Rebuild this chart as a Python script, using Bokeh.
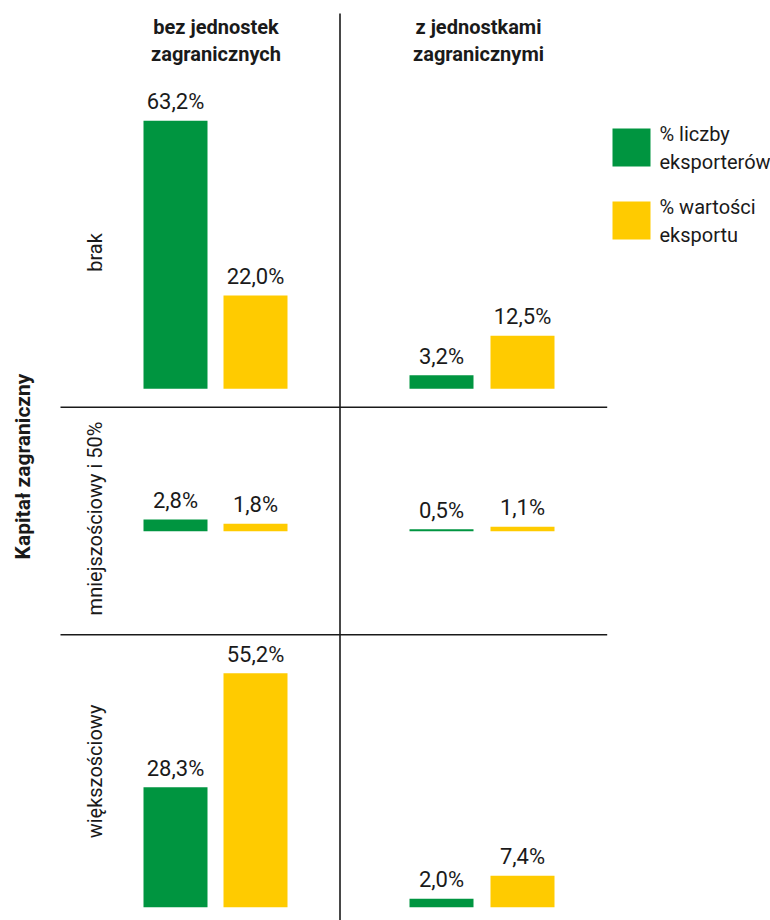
import math
from bokeh.plotting import figure
from bokeh.models import Range1d, ColumnDataSource
from bokeh.core.properties import value
from bokeh.embed import file_html
from bokeh.resources import INLINE

# ---------------- data ----------------
column_titles = ["bez jednostek\nzagranicznych", "z jednostkami\nzagranicznymi"]
row_titles = ["brak", "mniejszościowy i 50%", "większościowy"]
series_names = ["% liczby\neksporterów", "% wartości\neksportu"]
axis_title = "Kapitał zagraniczny"

bez_liczba = [63.2, 2.8, 28.3]
bez_wartosc = [22.0, 1.8, 55.2]
z_liczba = [3.2, 0.5, 2.0]
z_wartosc = [12.5, 1.1, 7.4]

# ---------------- layout / style ----------------
W, H = 770, 920
PX_PER_PCT = 4.24
row_baselines = [388.2, 530.8, 906.7]
bar_centers = [175, 255, 441, 522]   # (col0: green, yellow), (col1: green, yellow)
bar_width = 64
series_colors = ["#009540", "#FFCB00"]
FONT = "Roboto"
TXT = "#1a1a1a"
LINE = "#1a1a1a"

p = figure(width=W, height=H, x_range=Range1d(0, W), y_range=Range1d(H, 0),
           output_backend="svg", toolbar_location=None, min_border=0,
           x_axis_location=None, y_axis_location=None)
p.grid.visible = False
p.outline_line_color = None
p.background_fill_color = "white"
p.border_fill_color = "white"

# separators
p.segment(x0=[339.5], y0=[13], x1=[339.5], y1=[H], line_color=LINE, line_width=1.6)
p.segment(x0=[60, 60], y0=[406.7, 634.3], x1=[606.7, 606.7], y1=[406.7, 634.3],
          line_color=LINE, line_width=1.6)

def fmt(v):
    return f"{v:.1f}".replace(".", ",") + "%"

for r, b in enumerate(row_baselines):
    name = f"row{r}"
    start = -(H - b) / PX_PER_PCT
    p.extra_y_ranges[name] = Range1d(start, start + H / PX_PER_PCT)
    vals = [bez_liczba[r], bez_wartosc[r], z_liczba[r], z_wartosc[r]]
    src = ColumnDataSource(dict(
        x=bar_centers,
        v=vals,
        color=[series_colors[0], series_colors[1]] * 2,
        label=[fmt(v) for v in vals],
    ))
    p.vbar(x="x", top="v", bottom=0, width=bar_width, fill_color="color", line_color=None,
           source=src, y_range_name=name)
    p.text(x="x", y="v", text="label", source=src, y_range_name=name,
           text_align="center", text_baseline="alphabetic", y_offset=-19,
           text_font=value(FONT), text_font_size="22px", text_color=TXT)

# column headers
p.text(x=[215.5, 478], y=[14, 14], text=column_titles, text_align="center", text_baseline="top",
       text_font=value(FONT), text_font_style="bold", text_font_size="20px",
       text_line_height=1.15, text_color=TXT)

# row labels
p.text(x=[94, 94, 94], y=[252, 518, 771], text=row_titles, angle=math.pi / 2,
       text_align="center", text_baseline="alphabetic",
       text_font=value(FONT), text_font_size="20px", text_color=TXT)

# axis title
p.text(x=[22], y=[466], text=[axis_title], angle=math.pi / 2,
       text_align="center", text_baseline="alphabetic",
       text_font=value(FONT), text_font_style="bold", text_font_size="21px", text_color=TXT)

# legend
p.quad(left=[612, 612], right=[650, 650], top=[128, 201], bottom=[166, 239],
       fill_color=series_colors, line_color=None)
p.text(x=[659, 659], y=[121, 194], text=series_names, text_align="left", text_baseline="top",
       text_font=value(FONT), text_font_size="20px", text_line_height=1.2, text_color=TXT)

open("out.html", "w").write(file_html(p, INLINE))
